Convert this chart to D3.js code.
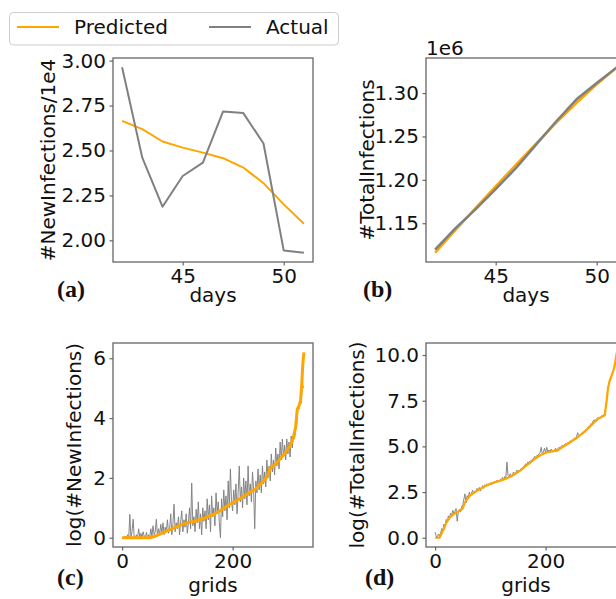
<html>
<head>
  <script src="https://d3js.org/d3.v7.min.js"></script>
  <title>Infections</title>
  <style>
    body { margin: 0; background: #fff; }
    svg text { font-family: "DejaVu Sans", sans-serif; fill: #111; }
  </style>
</head>
<body>
<div id="fig"></div>
<script>
  // (a) and (b): per-day series
  var days = [42, 43, 44, 45, 46, 47, 48, 49, 50, 51];
  var newPred   = [2.665, 2.619, 2.550, 2.516, 2.488, 2.457, 2.405, 2.318, 2.200, 2.092];
  var newActual = [2.963, 2.460, 2.187, 2.358, 2.432, 2.717, 2.708, 2.539, 1.944, 1.931];
  // millions (axis shows a 1e6 offset)
  var totalPred   = [1.1160, 1.1420, 1.1673, 1.1925, 1.2173, 1.2418, 1.2658, 1.2888, 1.3100, 1.3295];
  var totalActual = [1.1195, 1.1441, 1.1659, 1.1893, 1.2135, 1.2405, 1.2675, 1.2928, 1.3115, 1.3297];

  // (c) and (d): per-grid series, actual sampled every 2 grids
  var gridStep = 2;
  var logNewActual = [
    0, 0, 0, 0.05, 0, 0.1, 0, 0.78, 0, 0.2, 0.62, 0, 0, 0.1, 0, 0.3, 0, 0.15, 0, 0.2, 0.05, 0, 0.18, 0, 0.1,
    0, 0.3, 0.05, 0.4, 0.1, 0.2, 0.62, 0.05, 0.3, 0.1, 0.45, 0.15, 0.5, 0.1, 0.35, 0.2, 0.6, 0.15, 0.3, 0.8, 0.1, 0.45, 1.12, 0.2, 0.5,
    0.3, 0.7, 0.1, 0.55, 0.9, 0.2, 0.6, 0.35, 0.8, 0.15, 0.5, 1.0, 0.3, 1.83, 0.4, 0.7, 0.2, 0.95, 0.5, 1.2, 0.3, 0.8, 0.1, 1.0, 0.55,
    0.9, 0.3, 1.3, 0.6, 1.1, 0.2, 1.4, 0.7, 1.0, 0.4, 1.5, 0.8, 1.2, 0.5, 0.0, 1.3, 0.7, 1.6, 0.9, 1.4, 0.6, 1.9, 1.0, 2.3, 1.2,
    0.9, 1.6, 1.1, 1.8, 0.8, 1.5, 2.4, 1.2, 1.7, 1.0, 2.0, 1.3, 1.9, 1.1, 2.4, 1.4, 1.8, 1.2, 2.2, 1.6, 0.3, 1.9, 1.5, 2.3, 1.6,
    2.1, 1.5, 2.4, 1.8, 2.2, 1.7, 2.6, 2.0, 2.4, 1.9, 2.8, 2.2, 2.6, 2.1, 3.0, 2.4, 2.8, 2.3, 3.2, 2.6, 3.3, 2.7, 3.1, 2.6, 3.3,
    2.8, 3.2, 2.7, 3.4, 3.0, 3.5, 3.3, 3.6, 3.8, 4.4, 4.3, 4.6, 4.5, 5.2, 5.0];
  var logNewPredGrid = [0, 50, 60, 75, 90, 105, 115, 123, 132, 141, 150, 159, 168, 178, 187, 196, 205, 214, 223,
    232, 241, 250, 259, 264, 268, 277, 287, 296, 305, 310, 314, 317, 320, 323, 325, 327, 329];
  var logNewPred = [0, 0, 0.05, 0.17, 0.3, 0.42, 0.48, 0.53, 0.55, 0.6, 0.66, 0.74, 0.8, 0.91, 1.02, 1.14, 1.22, 1.31, 1.42,
    1.53, 1.62, 1.78, 1.95, 2.1, 2.32, 2.45, 2.66, 2.85, 3.1, 3.35, 3.7, 4.3, 4.4, 4.6, 5.1, 5.8, 6.2];

  var logTotActual = [
    0.3, 0.1, 0, 0.2, 0.1, 0.25, 0.5, 0.4, 0.75, 0.6, 1.0, 0.85, 1.2, 1.0, 1.35, 1.2, 1.5, 1.3, 1.45, 1.6, 0.9, 1.4, 1.55, 1.4, 1.7,
    1.8, 2.1, 2.4, 1.9, 2.3, 2.2, 2.5, 2.3, 2.45, 2.6, 2.4, 2.55, 2.5, 2.7, 2.6, 2.75, 2.55, 2.7, 2.85, 2.7, 2.9, 2.8, 2.95, 2.85, 2.95,
    3.0, 2.9, 3.05, 2.95, 3.1, 3.0, 3.15, 3.05, 3.1, 3.2, 3.15, 3.3, 3.2, 3.35, 3.25, 4.14, 3.4, 3.3, 3.5, 3.35, 3.45, 3.6, 3.5, 3.55, 3.7,
    3.6, 3.7, 3.65, 3.8, 3.75, 3.9, 3.95, 4.05, 4.0, 4.15, 4.1, 4.2, 4.2, 4.3, 4.3, 4.45, 4.4, 4.5, 4.5, 4.6, 4.65, 4.95, 4.6, 4.7, 4.9,
    4.65, 4.95, 4.7, 4.8, 4.75, 4.85, 4.7, 4.8, 4.75, 4.9, 4.8, 4.85, 4.95, 4.9, 5.0, 5.05, 5.0, 5.1, 5.15, 5.1, 5.2, 5.15, 5.3, 5.25, 5.35,
    5.35, 5.45, 5.4, 5.55, 5.75, 5.5, 5.6, 5.65, 5.75, 5.7, 5.85, 5.8, 5.95, 6.0, 6.1, 6.05, 6.25, 6.2, 6.4, 6.45, 6.35, 6.5, 6.55, 6.5, 6.6,
    6.6, 6.7, 6.65, 6.75, 7.0, 7.4, 8.0, 8.4, 8.6, 8.8, 8.95, 9.1, 9.3, 9.6, 10.0];
  var logTotPredGrid = [0, 8, 14, 20, 26, 32, 38, 44, 50, 54, 63, 72, 81, 90, 99, 108, 118, 127, 136, 145, 154, 163, 173,
    182, 191, 203, 212, 221, 230, 240, 249, 258, 267, 276, 285, 295, 301, 307, 310, 313, 316, 319, 322, 324, 326, 329];
  var logTotPred = [0, 0, 0.37, 0.8, 1.1, 1.25, 1.38, 1.47, 1.6, 1.93, 2.3, 2.5, 2.66, 2.82, 2.94, 3.04, 3.12, 3.22, 3.34, 3.5, 3.67, 3.9, 4.13,
    4.35, 4.53, 4.68, 4.73, 4.77, 4.95, 5.14, 5.32, 5.5, 5.72, 5.96, 6.22, 6.52, 6.6, 6.7, 7.4, 8.2, 8.6, 8.85, 9.1, 9.3, 9.6, 10.15];

  // tick labels
  var dayTicks = [45, 50];
  var newTicks = [2.00, 2.25, 2.50, 2.75, 3.00];
  var totalTicks = [1.15, 1.20, 1.25, 1.30];
  var gridTicks = [0, 200];
  var logNewTicks = [0, 2, 4, 6];
  var logTotTicks = [0.0, 2.5, 5.0, 7.5, 10.0];

  var orange = "#ffa500";
  var grey = "#808080";
  var spine = "#666";
  var fs = "20px";

  var svg = d3.select("#fig").append("svg")
    .attr("width", 616)
    .attr("height", 599);

  function padded(vals) {
    var e = d3.extent(vals);
    var m = (e[1] - e[0]) * 0.05;
    return [e[0] - m, e[1] + m];
  }

  function panel(p) {
    var w = 200, h = 204;
    var x = d3.scaleLinear().domain(p.xd).range([p.left, p.left + w]);
    var y = d3.scaleLinear().domain(p.yd).range([p.top + h, p.top]);
    var g = svg.append("g");

    p.series.forEach(function(s) {
      var line = d3.line()
        .x(function(d, i) { return x(s.xs[i]); })
        .y(function(d) { return y(d); });
      g.append("path")
        .attr("d", line(s.ys))
        .attr("fill", "none")
        .attr("stroke", s.color)
        .attr("stroke-width", s.width)
        .attr("stroke-opacity", s.opacity || 1)
        .attr("stroke-linejoin", "round");
    });

    g.append("rect")
      .attr("x", p.left).attr("y", p.top)
      .attr("width", w).attr("height", h)
      .attr("fill", "none")
      .attr("stroke", spine)
      .attr("stroke-width", 1.3);

    var xa = g.append("g")
      .attr("transform", "translate(0," + (p.top + h) + ")")
      .call(d3.axisBottom(x).tickValues(p.xt).tickSize(3.5).tickPadding(3).tickFormat(d3.format("d")));
    var ya = g.append("g")
      .attr("transform", "translate(" + p.left + ",0)")
      .call(d3.axisLeft(y).tickValues(p.yt).tickSize(3.5).tickPadding(3.5).tickFormat(p.yf));
    [xa, ya].forEach(function(a) {
      a.select(".domain").remove();
      a.selectAll("line").attr("stroke", spine).attr("stroke-width", 1.2);
      a.selectAll("text").attr("font-size", fs).attr("font-family", "DejaVu Sans").attr("fill", "#111");
    });

    g.append("text")
      .attr("x", p.left + w / 2).attr("y", p.xlabelY)
      .attr("text-anchor", "middle")
      .attr("font-size", fs)
      .text(p.xlabel);

    g.append("text")
      .attr("transform", "translate(" + p.ylabelX + "," + (p.top + h / 2) + ") rotate(-90)")
      .attr("text-anchor", "middle")
      .attr("font-size", fs)
      .text(p.ylabel);

    g.append("text")
      .attr("x", p.tagX).attr("y", p.tagY)
      .style("font-family", "'Liberation Serif', serif")
      .attr("font-weight", "bold")
      .attr("font-size", "24px")
      .text(p.tag);

    if (p.offset) {
      g.append("text")
        .attr("x", p.left).attr("y", p.top - 3)
        .attr("font-size", fs)
        .text(p.offset);
    }
  }

  var gridsNew = logNewActual.map(function(d, i) { return i * gridStep; });
  var gridsTot = logTotActual.map(function(d, i) { return i * gridStep; });

  panel({
    left: 113, top: 58, tag: "(a)", tagX: 57, tagY: 297,
    xd: padded(days), yd: padded(newPred.concat(newActual)),
    xt: dayTicks, yt: newTicks, yf: d3.format(".2f"),
    xlabel: "days", xlabelY: 302, ylabel: "#NewInfections/1e4", ylabelX: 55,
    series: [
      { xs: days, ys: newPred, color: orange, width: 2 },
      { xs: days, ys: newActual, color: grey, width: 2 }
    ]
  });

  panel({
    left: 426, top: 58, tag: "(b)", tagX: 363, tagY: 297, offset: "1e6",
    xd: padded(days), yd: padded(totalPred.concat(totalActual)),
    xt: dayTicks, yt: totalTicks, yf: d3.format(".2f"),
    xlabel: "days", xlabelY: 302, ylabel: "#TotalInfections", ylabelX: 374,
    series: [
      { xs: days, ys: totalPred, color: orange, width: 2.5 },
      { xs: days, ys: totalActual, color: grey, width: 2.5 }
    ]
  });

  panel({
    left: 113, top: 343, tag: "(c)", tagX: 57, tagY: 585,
    xd: padded(gridsNew.concat(logNewPredGrid)), yd: padded(logNewActual.concat(logNewPred)),
    xt: gridTicks, yt: logNewTicks, yf: d3.format("d"),
    xlabel: "grids", xlabelY: 592, ylabel: "log(#NewInfections)", ylabelX: 81,
    series: [
      { xs: gridsNew, ys: logNewActual, color: grey, width: 1, opacity: 0.95 },
      { xs: logNewPredGrid, ys: logNewPred, color: orange, width: 3 }
    ]
  });

  panel({
    left: 426, top: 343, tag: "(d)", tagX: 365, tagY: 585,
    xd: padded(gridsTot.concat(logTotPredGrid)), yd: padded(logTotActual.concat(logTotPred)),
    xt: gridTicks, yt: logTotTicks, yf: d3.format(".1f"),
    xlabel: "grids", xlabelY: 592, ylabel: "log(#TotalInfections)", ylabelX: 364,
    series: [
      { xs: gridsTot, ys: logTotActual, color: grey, width: 1, opacity: 0.95 },
      { xs: logTotPredGrid, ys: logTotPred, color: orange, width: 2.2 }
    ]
  });

  // legend
  var lg = svg.append("g");
  lg.append("rect")
    .attr("x", 9.5).attr("y", 12.5)
    .attr("width", 329).attr("height", 32.5)
    .attr("rx", 4)
    .attr("fill", "#fff")
    .attr("stroke", "#ccc");
  var legendItems = [
    { name: "Predicted", color: orange, x: 17 },
    { name: "Actual", color: grey, x: 209 }
  ];
  legendItems.forEach(function(d) {
    lg.append("line")
      .attr("x1", d.x).attr("x2", d.x + 42)
      .attr("y1", 27).attr("y2", 27)
      .attr("stroke", d.color).attr("stroke-width", 2);
    lg.append("text")
      .attr("x", d.x + 57).attr("y", 33.5)
      .attr("font-size", fs)
      .text(d.name);
  });
</script>
</body>
</html>
